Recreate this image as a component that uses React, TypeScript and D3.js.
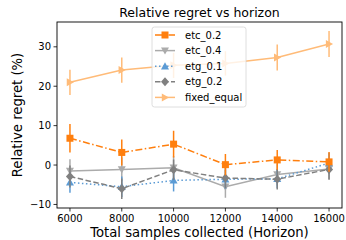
import React from "react";
import * as d3 from "d3";

const horizons = [6000, 8000, 10000, 12000, 14000, 16000];
const xTicks = [6000, 8000, 10000, 12000, 14000, 16000];
const yTicks = [-10, 0, 10, 20, 30];

const etc02 = [6.8, 3.2, 5.3, 0.1, 1.3, 0.8];
const etc02Err = [3.6, 3.3, 3.4, 2.7, 2.5, 2.5];
const etc04 = [-1.5, -1.1, -0.7, -5.5, -2.4, -1.0];
const etc04Err = [3.0, 3.0, 3.0, 2.8, 2.8, 2.6];
const etg01 = [-4.4, -5.5, -3.9, -3.6, -3.5, 0.5];
const etg01Err = [2.6, 2.6, 2.8, 2.4, 2.4, 2.6];
const etg02 = [-2.9, -6.0, -1.2, -3.3, -3.6, -1.1];
const etg02Err = [2.8, 2.6, 2.6, 2.6, 2.6, 2.6];
const fixedEq = [21.0, 24.1, 25.3, 25.8, 27.3, 30.7];
const fixedEqErr = [3.2, 3.2, 3.2, 3.1, 3.3, 3.3];

const seriesNames = ["etc_0.2", "etc_0.4", "etg_0.1", "etg_0.2", "fixed_equal"];

type S = { name: string; vals: number[]; err: number[]; color: string; dash: string; marker: string };

const series: S[] = [
  { name: seriesNames[4], vals: fixedEq, err: fixedEqErr, color: "#ffbb78", dash: "", marker: "tri-right" },
  { name: seriesNames[1], vals: etc04, err: etc04Err, color: "#ababab", dash: "", marker: "tri-down" },
  { name: seriesNames[2], vals: etg01, err: etg01Err, color: "#5b9bd5", dash: "1.5,2.5", marker: "tri-up" },
  { name: seriesNames[3], vals: etg02, err: etg02Err, color: "#808080", dash: "5.5,2.5", marker: "diamond" },
  { name: seriesNames[0], vals: etc02, err: etc02Err, color: "#ff7f0e", dash: "7,2.5,1.5,2.5", marker: "square" },
];

function Marker({ type, x, y, color }: { type: string; x: number; y: number; color: string }) {
  const r = 4;
  if (type === "square") return <rect x={x - 3.5} y={y - 3.5} width={7} height={7} fill={color} />;
  if (type === "diamond")
    return <path d={`M${x},${y - 4.5}L${x + 4},${y}L${x},${y + 4.5}L${x - 4},${y}Z`} fill={color} />;
  if (type === "tri-up")
    return <path d={`M${x},${y - r}L${x + r},${y + r * 0.8}L${x - r},${y + r * 0.8}Z`} fill={color} />;
  if (type === "tri-down")
    return <path d={`M${x},${y + r}L${x + r},${y - r * 0.8}L${x - r},${y - r * 0.8}Z`} fill={color} />;
  return <path d={`M${x + r},${y}L${x - r * 0.8},${y - r}L${x - r * 0.8},${y + r}Z`} fill={color} />;
}

export default function App() {
  const W = 346, H = 240;
  const L = 57, R = 342, T = 22, B = 208;
  const x = d3.scaleLinear().domain([5500, 16500]).range([L, R]);
  const y = d3.scaleLinear().domain([-10.9, 36.3]).range([B, T]);
  const font = "DejaVu Sans, sans-serif";
  const legendOrder = ["etc_0.2", "etc_0.4", "etg_0.1", "etg_0.2", "fixed_equal"];
  return (
    <div style={{ position: "absolute", left: 0, top: 0 }}>
      <svg width={W} height={H} style={{ display: "block", background: "#fff" }} fontFamily={font}>
        <defs>
          <clipPath id="plot">
            <rect x={L} y={T} width={R - L} height={B - T} />
          </clipPath>
        </defs>
        <g clipPath="url(#plot)">
          {series.map((s) => {
            const line = d3
              .line<number>()
              .x((_, i) => x(horizons[i]))
              .y((v) => y(v));
            return (
              <g key={s.name}>
                {s.vals.map((v, i) => (
                  <line
                    key={i}
                    x1={x(horizons[i])}
                    x2={x(horizons[i])}
                    y1={y(v - s.err[i])}
                    y2={y(v + s.err[i])}
                    stroke={s.color}
                    strokeWidth={1.5}
                  />
                ))}
                <path d={line(s.vals) || ""} fill="none" stroke={s.color} strokeWidth={1.5} strokeDasharray={s.dash} />
                {s.vals.map((v, i) => (
                  <Marker key={i} type={s.marker} x={x(horizons[i])} y={y(v)} color={s.color} />
                ))}
              </g>
            );
          })}
        </g>
        <rect x={L} y={T} width={R - L} height={B - T} fill="none" stroke="#000" strokeWidth={0.9} />
        {xTicks.map((t) => (
          <g key={t}>
            <line x1={x(t)} x2={x(t)} y1={B} y2={B + 3.5} stroke="#000" strokeWidth={0.8} />
            <text x={x(t)} y={B + 14} fontSize={10} textAnchor="middle" fill="#000">
              {t}
            </text>
          </g>
        ))}
        {yTicks.map((t) => (
          <g key={t}>
            <line x1={L - 3.5} x2={L} y1={y(t)} y2={y(t)} stroke="#000" strokeWidth={0.8} />
            <text x={L - 6} y={y(t) + 3.5} fontSize={10} textAnchor="end" fill="#000">
              {t < 0 ? "\u2212" + Math.abs(t) : t}
            </text>
          </g>
        ))}
        <text x={(L + R) / 2} y={17} fontSize={12.5} textAnchor="middle" fill="#000">
          Relative regret vs horizon
        </text>
        <text x={(L + R) / 2} y={237} fontSize={13.2} textAnchor="middle" fill="#000">
          Total samples collected (Horizon)
        </text>
        <text
          transform={`translate(22,${(T + B) / 2}) rotate(-90)`}
          fontSize={13.2}
          textAnchor="middle"
          fill="#000"
        >
          Relative regret (%)
        </text>
        <g>
          <rect x={152} y={27} width={94} height={80} rx={2.5} fill="#fff" fillOpacity={0.8} stroke="#d5d5d5" strokeWidth={0.8} />
          {legendOrder.map((name, i) => {
            const s = series.find((q) => q.name === name)!;
            const ly = 35 + i * 15.6;
            return (
              <g key={name}>
                <line x1={155} x2={175} y1={ly} y2={ly} stroke={s.color} strokeWidth={1.5} strokeDasharray={s.dash} />
                <Marker type={s.marker} x={165} y={ly} color={s.color} />
                <text x={185} y={ly + 3.6} fontSize={10} fill="#000">
                  {name}
                </text>
              </g>
            );
          })}
        </g>
      </svg>
    </div>
  );
}
